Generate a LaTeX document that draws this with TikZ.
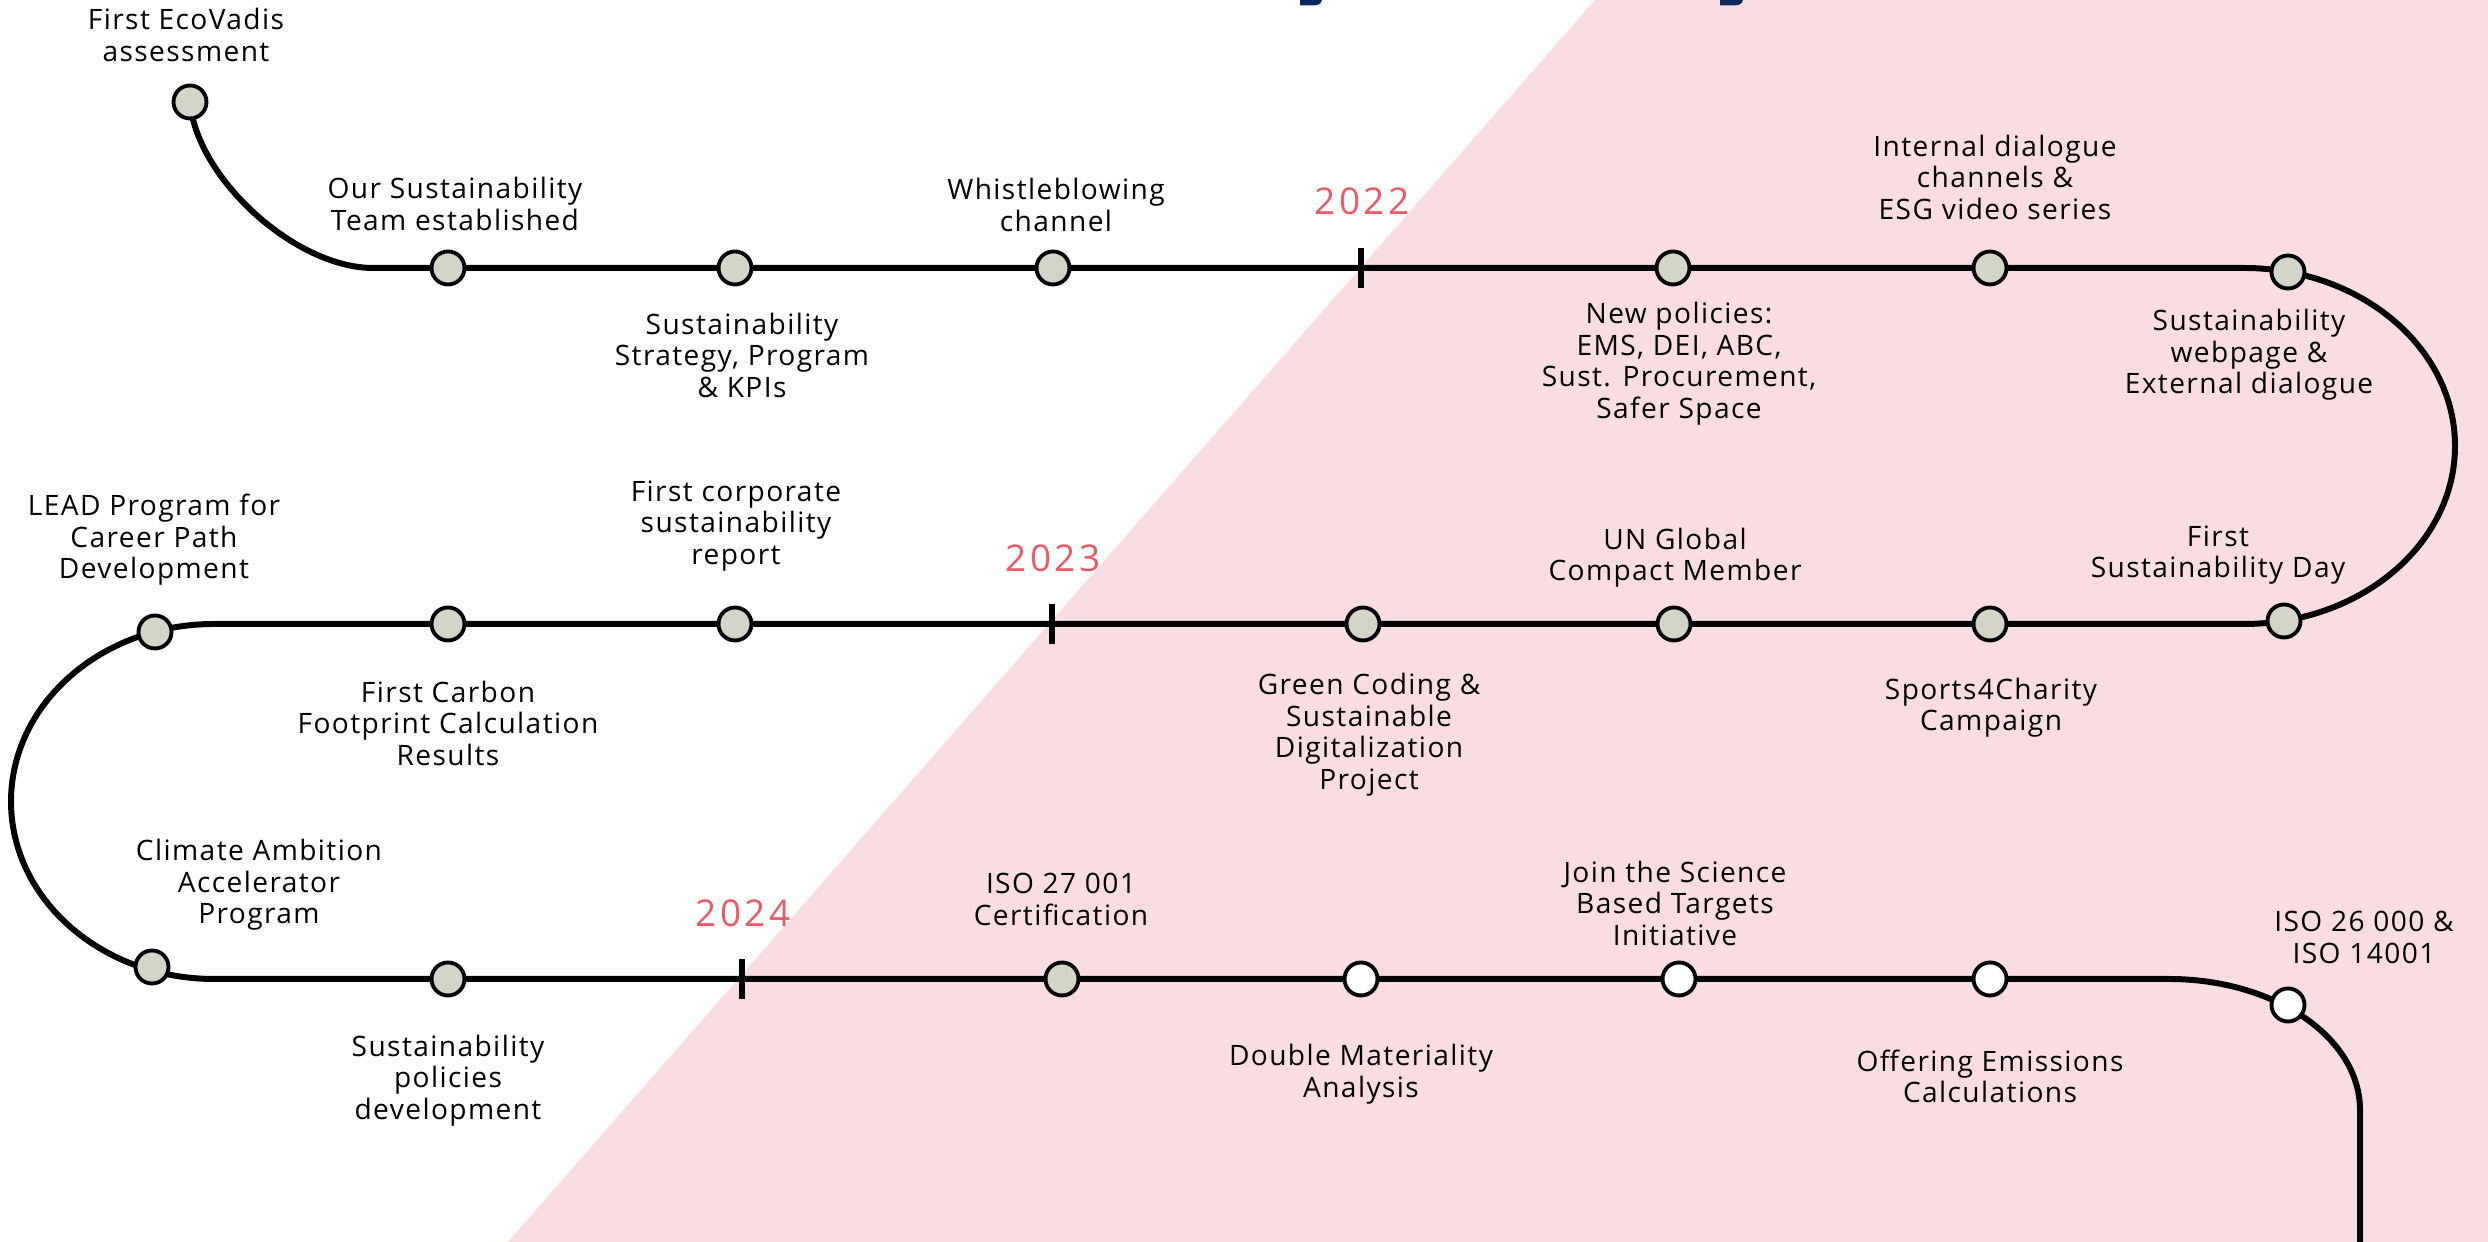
\documentclass[tikz,border=0pt]{standalone}
\usepackage{fontspec}
\setmainfont{Open Sans}
\usetikzlibrary{positioning}

\definecolor{bgpink}{RGB}{250,221,226}
\definecolor{milegray}{RGB}{212,212,200}
\definecolor{yearred}{RGB}{236,90,104}
\definecolor{titlenavy}{RGB}{12,40,92}

\tikzset{
  track/.style={draw=black,line width=1.7pt},
  mile/.style={circle,draw=black,line width=1.1pt,fill=milegray,minimum size=0.33cm,inner sep=0pt},
  upcoming/.style={mile,fill=white},
  event/.style={font=\fontsize{8}{8.96}\selectfont\addfontfeature{LetterSpace=5},align=center,inner sep=0pt,text=black},
  year/.style={font=\fontsize{10.5}{12}\selectfont\addfontfeature{LetterSpace=9},text=yearred,inner sep=0pt},
  yeartick/.style={draw=black,line width=1.5pt}
}

\begin{document}
\begin{tikzpicture}
\useasboundingbox (0,0) rectangle (24.88,12.42);
\fill[white] (0,0) rectangle (24.88,12.42);
\fill[bgpink] (15.95,12.42) -- (24.88,12.42) -- (24.88,0) -- (5.08,0) -- cycle;
\fill[titlenavy] (13.00,12.42) -- (13.22,12.42) .. controls (13.21,12.37) and (13.17,12.365) .. (13.10,12.365) -- (13.00,12.365) -- cycle;
\fill[titlenavy] (17.20,12.42) -- (17.43,12.42) .. controls (17.42,12.37) and (17.38,12.365) .. (17.31,12.365) -- (17.20,12.365) -- cycle;

\coordinate (start) at (1.90,11.40);
\coordinate (r1a) at (3.73,9.74);
\coordinate (r1b) at (22.44,9.74);
\coordinate (r2a) at (2.14,6.18);
\coordinate (r3b) at (21.69,2.63);
\coordinate (tail) at (23.60,0);
\draw[track] (start) to[out=-85,in=180,looseness=0.8] (r1a) -- (r1b)
  arc[start angle=90,end angle=-90,x radius=2.11,y radius=1.78] -- (r2a)
  arc[start angle=90,end angle=270,x radius=2.03,y radius=1.775] -- (r3b)
  arc[start angle=90,end angle=0,x radius=1.91,y radius=1.31] -- (tail);

\draw[yeartick] (13.61,9.54) -- (13.61,9.94);
\node[year] (y22) at (13.62,10.41) {2022};
\draw[yeartick] (10.52,5.98) -- (10.52,6.38);
\node[year] (y23) at (10.53,6.84) {2023};
\draw[yeartick] (7.42,2.43) -- (7.42,2.83);
\node[year] (y24) at (7.43,3.29) {2024};

\node[mile] (eco) at (start) {};
\node[mile] (team) at (4.48,9.74) {};
\node[mile] (strat) at (7.35,9.74) {};
\node[mile] (whistle) at (10.53,9.74) {};
\node[mile] (newpol) at (16.73,9.74) {};
\node[mile] (dialog) at (19.90,9.74) {};
\node[mile] (web) at (22.88,9.70) {};
\node[mile] (sday) at (22.84,6.21) {};
\node[mile] (sports) at (19.90,6.18) {};
\node[mile] (ungc) at (16.74,6.18) {};
\node[mile] (green) at (13.63,6.18) {};
\node[mile] (report) at (7.35,6.18) {};
\node[mile] (carbon) at (4.48,6.18) {};
\node[mile] (lead) at (1.55,6.10) {};
\node[mile] (climate) at (1.52,2.75) {};
\node[mile] (spol) at (4.48,2.63) {};
\node[mile] (iso27) at (10.62,2.63) {};
\node[upcoming] (dma) at (13.61,2.63) {};
\node[upcoming] (sbti) at (16.79,2.63) {};
\node[upcoming] (offer) at (19.90,2.63) {};
\node[upcoming] (iso26) at (22.88,2.37) {};

\node[event] (ecotxt) at (1.86,12.07) {First EcoVadis\\assessment};
\node[event] (teamtxt) at (4.55,10.38) {Our Sustainability\\Team established};
\node[event] (strattxt) at (7.42,8.87) {Sustainability\\Strategy, Program\\\& KPIs};
\node[event] (whistletxt) at (10.56,10.37) {Whistleblowing\\channel};
\node[event] (newpoltxt) at (16.79,8.785) {New policies:\\EMS, DEI, ABC,\\Sust. Procurement,\\Safer Space};
\node[event] (dialogtxt) at (19.95,10.65) {Internal dialogue\\channels \&\\ESG video series};
\node[event] (webtxt) at (22.49,8.87) {Sustainability\\webpage \&\\External dialogue};
\node[event] (leadtxt) at (1.54,7.02) {LEAD Program for\\Career Path\\Development};
\node[event] (carbontxt) at (4.48,5.19) {First Carbon\\Footprint Calculation\\Results};
\node[event] (reporttxt) at (7.36,7.16) {First corporate\\sustainability\\report};
\node[event] (greentxt) at (13.69,5.075) {Green Coding \&\\Sustainable\\Digitalization\\Project};
\node[event] (ungctxt) at (16.75,6.845) {UN Global\\Compact Member};
\node[event] (sportstxt) at (19.91,5.345) {Sports4Charity\\Campaign};
\node[event] (sdaytxt) at (22.18,6.87) {First\\Sustainability Day};
\node[event] (climatetxt) at (2.59,3.57) {Climate Ambition\\Accelerator\\Program};
\node[event] (spoltxt) at (4.48,1.615) {Sustainability\\policies\\development};
\node[event] (iso27txt) at (10.61,3.425) {ISO 27 001\\Certification};
\node[event] (dmatxt) at (13.61,1.68) {Double Materiality\\Analysis};
\node[event] (sbtitxt) at (16.75,3.39) {Join the Science\\Based Targets\\Initiative};
\node[event] (offertxt) at (19.90,1.655) {Offering Emissions\\Calculations};
\node[event] (iso26txt) at (23.64,3.045) {ISO 26 000 \&\\ISO 14001};

\end{tikzpicture}
\end{document}
